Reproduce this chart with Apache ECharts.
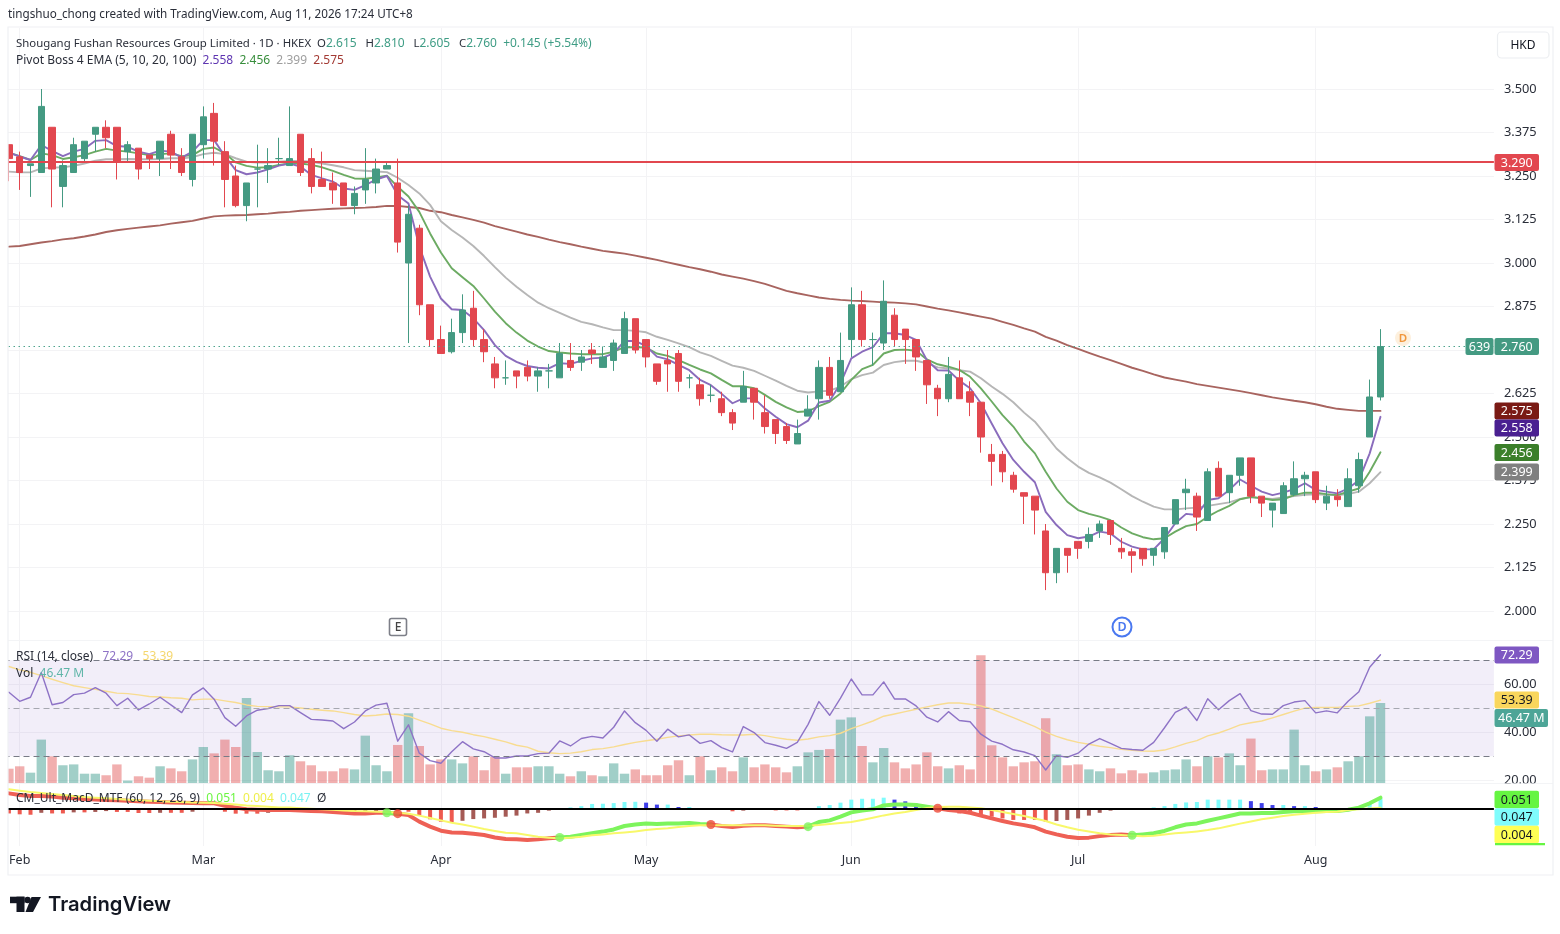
<!DOCTYPE html>
<html><head><meta charset="utf-8">
<style>html,body{margin:0;padding:0;background:#fff}#c{width:1560px;height:934px}</style>
<script src="https://cdn.jsdelivr.net/npm/echarts@6/dist/echarts.min.js"></script>
</head><body><div id="c"></div>
<script>
const open=[3.34,3.305,3.28,3.26,3.39,3.22,3.26,3.30,3.37,3.39,
3.39,3.32,3.33,3.31,3.30,3.37,3.305,3.24,3.34,3.43,
3.32,3.25,3.165,3.27,3.27,3.30,3.28,3.37,3.30,3.24,
3.23,3.23,3.165,3.21,3.23,3.27,3.23,3.00,3.10,2.88,
2.78,2.745,2.80,2.87,2.78,2.71,2.67,2.69,2.70,2.675,
2.69,2.67,2.72,2.715,2.75,2.70,2.72,2.74,2.84,2.78,
2.71,2.72,2.74,2.67,2.65,2.62,2.61,2.57,2.60,2.64,
2.57,2.55,2.53,2.48,2.56,2.61,2.70,2.63,2.78,2.88,
2.78,2.77,2.85,2.81,2.78,2.72,2.64,2.61,2.67,2.63,
2.60,2.45,2.45,2.39,2.34,2.33,2.23,2.11,2.18,2.20,
2.20,2.23,2.26,2.18,2.17,2.18,2.16,2.17,2.25,2.34,
2.33,2.26,2.41,2.34,2.39,2.44,2.33,2.29,2.28,2.335,
2.38,2.40,2.31,2.33,2.30,2.36,2.50,2.615];
const close=[3.30,3.26,3.285,3.45,3.27,3.28,3.34,3.35,3.39,3.36,
3.29,3.34,3.27,3.30,3.35,3.31,3.26,3.37,3.42,3.35,
3.24,3.165,3.23,3.27,3.28,3.30,3.30,3.26,3.22,3.22,
3.21,3.165,3.20,3.24,3.27,3.28,3.06,3.14,2.88,2.78,
2.74,2.80,2.865,2.78,2.745,2.67,2.67,2.675,2.675,2.69,
2.69,2.74,2.70,2.73,2.74,2.73,2.77,2.84,2.75,2.73,
2.66,2.71,2.66,2.67,2.61,2.62,2.57,2.54,2.645,2.60,
2.53,2.51,2.49,2.51,2.58,2.70,2.62,2.72,2.88,2.78,
2.78,2.89,2.78,2.78,2.73,2.65,2.61,2.68,2.61,2.60,
2.50,2.43,2.40,2.35,2.33,2.29,2.11,2.18,2.16,2.18,
2.22,2.25,2.22,2.17,2.16,2.15,2.18,2.24,2.32,2.35,
2.27,2.40,2.33,2.39,2.44,2.33,2.31,2.31,2.36,2.38,
2.39,2.32,2.33,2.32,2.38,2.435,2.615,2.76];
const high=[3.34,3.32,3.285,3.50,3.39,3.295,3.36,3.35,3.39,3.41,
3.39,3.35,3.33,3.31,3.35,3.38,3.33,3.37,3.45,3.46,
3.35,3.28,3.23,3.34,3.33,3.36,3.45,3.37,3.33,3.32,
3.26,3.23,3.22,3.33,3.30,3.29,3.30,3.165,3.11,2.88,
2.82,2.84,2.91,2.92,2.81,2.73,2.72,2.69,2.72,2.70,
2.71,2.77,2.77,2.75,2.77,2.76,2.78,2.86,2.84,2.78,
2.71,2.75,2.75,2.68,2.67,2.65,2.63,2.58,2.69,2.64,
2.62,2.55,2.54,2.55,2.62,2.72,2.73,2.80,2.93,2.92,
2.80,2.95,2.87,2.81,2.78,2.72,2.65,2.73,2.72,2.66,
2.60,2.48,2.46,2.40,2.34,2.33,2.25,2.18,2.18,2.20,
2.24,2.26,2.26,2.21,2.18,2.18,2.18,2.24,2.32,2.38,
2.34,2.41,2.43,2.39,2.44,2.44,2.33,2.31,2.37,2.43,
2.40,2.40,2.36,2.35,2.41,2.455,2.665,2.81];
const low=[3.235,3.21,3.19,3.26,3.16,3.16,3.26,3.29,3.32,3.33,
3.24,3.29,3.24,3.27,3.25,3.27,3.25,3.22,3.30,3.28,
3.16,3.16,3.12,3.16,3.23,3.28,3.28,3.25,3.20,3.22,
3.17,3.165,3.14,3.17,3.20,3.27,3.03,2.77,2.85,2.76,
2.74,2.74,2.77,2.76,2.715,2.64,2.65,2.64,2.66,2.63,
2.64,2.67,2.69,2.69,2.71,2.70,2.69,2.74,2.74,2.70,
2.65,2.63,2.63,2.64,2.59,2.60,2.56,2.52,2.60,2.55,
2.51,2.48,2.48,2.48,2.56,2.55,2.61,2.63,2.73,2.76,
2.705,2.75,2.76,2.71,2.69,2.595,2.56,2.60,2.61,2.56,
2.455,2.36,2.37,2.34,2.25,2.22,2.06,2.08,2.11,2.15,
2.18,2.21,2.19,2.15,2.11,2.13,2.13,2.15,2.25,2.29,
2.23,2.26,2.33,2.31,2.36,2.31,2.27,2.24,2.28,2.33,
2.33,2.31,2.29,2.30,2.30,2.34,2.50,2.605];
const ema5=[3.317,3.306,3.296,3.339,3.322,3.307,3.32,3.328,3.351,3.353,
3.336,3.334,3.32,3.313,3.323,3.32,3.303,3.32,3.353,3.353,
3.307,3.267,3.255,3.26,3.269,3.28,3.286,3.277,3.253,3.243,
3.234,3.214,3.21,3.224,3.24,3.25,3.195,3.171,3.047,2.961,
2.898,2.867,2.865,2.841,2.807,2.764,2.733,2.716,2.704,2.699,
2.697,2.712,2.71,2.719,2.726,2.728,2.74,2.776,2.776,2.761,
2.731,2.723,2.707,2.692,2.664,2.649,2.624,2.597,2.611,2.611,
2.582,2.558,2.537,2.528,2.547,2.599,2.604,2.654,2.726,2.745,
2.758,2.798,2.798,2.793,2.779,2.721,2.692,2.691,2.662,2.64,
2.597,2.539,2.482,2.434,2.40,2.37,2.285,2.247,2.218,2.209,
2.214,2.228,2.223,2.199,2.185,2.177,2.177,2.209,2.252,2.279,
2.276,2.319,2.324,2.348,2.378,2.36,2.343,2.333,2.34,2.35,
2.367,2.348,2.343,2.338,2.352,2.376,2.453,2.558];
const ema10=[3.317,3.307,3.296,3.315,3.31,3.299,3.304,3.31,3.32,3.328,
3.323,3.32,3.315,3.31,3.313,3.315,3.307,3.31,3.328,3.332,
3.315,3.289,3.279,3.274,3.275,3.282,3.286,3.286,3.282,3.275,
3.265,3.253,3.243,3.242,3.246,3.251,3.219,3.191,3.147,3.085,
3.03,2.985,2.959,2.934,2.898,2.86,2.827,2.8,2.777,2.76,
2.747,2.743,2.74,2.738,2.738,2.738,2.745,2.758,2.758,2.757,
2.74,2.733,2.721,2.707,2.694,2.683,2.664,2.646,2.646,2.64,
2.621,2.601,2.585,2.572,2.574,2.589,2.601,2.625,2.664,2.695,
2.707,2.74,2.75,2.751,2.748,2.723,2.709,2.702,2.693,2.673,
2.64,2.602,2.563,2.53,2.487,2.453,2.40,2.352,2.314,2.29,
2.279,2.271,2.261,2.24,2.223,2.212,2.206,2.209,2.228,2.244,
2.25,2.271,2.288,2.302,2.321,2.328,2.324,2.319,2.321,2.333,
2.34,2.34,2.336,2.333,2.343,2.352,2.40,2.456];
const ema20=[3.2625,3.2605,3.2605,3.272,3.274,3.275,3.279,3.286,3.294,3.298,
3.298,3.299,3.298,3.298,3.299,3.301,3.301,3.304,3.313,3.317,
3.313,3.301,3.291,3.289,3.289,3.291,3.293,3.293,3.291,3.286,
3.281,3.275,3.267,3.265,3.263,3.261,3.245,3.224,3.2,3.167,
3.12,3.095,3.073,3.049,3.02,2.988,2.958,2.932,2.908,2.886,
2.87,2.857,2.843,2.831,2.824,2.815,2.807,2.807,2.805,2.801,
2.788,2.779,2.769,2.758,2.743,2.733,2.719,2.705,2.699,2.69,
2.676,2.662,2.647,2.633,2.628,2.631,2.633,2.645,2.666,2.678,
2.685,2.707,2.715,2.719,2.719,2.712,2.7,2.697,2.692,2.688,
2.669,2.645,2.624,2.6,2.57,2.544,2.506,2.467,2.439,2.415,
2.397,2.384,2.369,2.35,2.33,2.314,2.3,2.292,2.292,2.295,
2.297,2.302,2.307,2.312,2.322,2.327,2.324,2.322,2.326,2.33,
2.334,2.335,2.334,2.333,2.336,2.343,2.367,2.399];
const ema100=[3.047,3.049,3.054,3.059,3.063,3.068,3.071,3.076,3.082,3.089,
3.094,3.098,3.1015,3.105,3.108,3.113,3.117,3.121,3.128,3.134,
3.136,3.137,3.138,3.14,3.142,3.145,3.147,3.15,3.152,3.154,
3.156,3.157,3.158,3.159,3.161,3.164,3.164,3.161,3.158,3.15,
3.146,3.138,3.131,3.124,3.116,3.106,3.098,3.09,3.082,3.075,
3.067,3.06,3.054,3.047,3.041,3.035,3.031,3.027,3.021,3.015,
3.009,3.002,2.995,2.988,2.982,2.975,2.967,2.961,2.955,2.948,
2.94,2.93,2.92,2.913,2.907,2.901,2.897,2.894,2.892,2.891,
2.889,2.887,2.886,2.884,2.881,2.875,2.869,2.864,2.858,2.852,
2.846,2.84,2.831,2.822,2.812,2.803,2.788,2.777,2.764,2.753,
2.742,2.731,2.721,2.71,2.699,2.69,2.68,2.671,2.665,2.659,
2.652,2.647,2.642,2.637,2.632,2.626,2.62,2.614,2.609,2.604,
2.6,2.594,2.587,2.581,2.578,2.575,2.575,2.575];
const volume=[8.3,9.7,6,25.2,15.5,10.3,10.8,5.4,5.4,4.5,
10.8,1.4,3.9,3.1,9.7,8.5,6.8,13.7,20.9,17.2,
25.2,20.9,49.4,18,7.4,6.8,16.1,12.6,10.3,6.8,
6.8,8.5,7.9,27.5,10.3,6.8,22.1,40.5,21.5,10.8,
13.7,13.7,11.4,15.5,7.4,15.3,5.4,9.1,
9.1,9.7,9.7,5.4,3.9,6.8,4.5,3.9,11.4,5.4,
7.9,4.5,4.5,10.3,13.2,4.5,15.5,7.4,9.1,6.8,
14.9,9.1,10.8,9.1,6.2,9.7,17.8,19.2,19.7,36.8,
38.1,21.5,12,20.3,12,8.5,10.8,17.8,9.7,8.5,
10.3,7.9,74.2,21.9,14.9,9.7,
12,12.6,37.6,16.7,10.3,10.8,7.9,6.8,8.5,5.6,
7.4,5.6,6.2,7.4,7.9,13.7,9.7,15.5,14.9,17.2,
10.3,25.8,7.4,7.9,7.9,31,10.3,6.8,7.9,9.1,
12.6,15.5,38.7,46.47];
const rsi=[56.7,52.9,54.6,64.9,51.5,52.4,55.7,56.3,58.6,56.3,
51.1,54.2,49.3,51.8,54.6,51.4,48.2,55.6,58.5,53.8,
46.1,42.5,46.8,49.2,49.9,51.1,51.1,48.2,45.4,45.1,
44.7,41.5,44.3,48.9,51.3,52.1,36.3,43.1,31.3,28.2,
27.1,31.9,36.1,33.1,31.9,29.3,29.3,30.1,
30.1,31.1,31.3,36.4,34.3,37.4,38.3,37.6,42.1,48.9,
44,40.8,36.3,41.3,38.1,38.9,35.4,36.5,33.6,31.8,
42.4,39.9,35.7,34.6,33.3,35.8,43.3,52.8,47.1,54.2,
62.2,55.6,55.6,61,53.9,53.9,51,46.3,44.3,48.6,
44.9,44.4,39.2,36.3,35,32.7,
31.8,30.3,24.3,30.3,29.6,31.3,35.1,37.4,35.4,33.3,
32.8,32.5,35.8,41.9,48.3,50.6,44.9,54,49.4,53.2,
56.1,49,47.6,47.5,51.1,52.6,53.2,48.1,48.9,48.1,
52.9,56.9,67.1,72.29];
const rsiMa=[67.4,66,65,63.6,62.1,60.7,59.4,58.6,57.9,57.1,
56.3,56.1,55.6,54.9,54.7,54.4,54.2,53.5,53.8,53.8,
53.1,52.4,51.4,50.8,50.7,50.6,50.6,50.1,49.6,49.2,
48.9,48.2,47.4,46.8,47.1,47.6,47.4,46.7,45.1,43.5,
41.7,40.7,40,39,38.2,37.1,36,34.6,
33.8,32.1,31.5,31.1,31.3,31.9,32.8,33.2,33.9,34.9,
35.8,36.5,37.1,37.9,38.5,38.9,39.2,39.2,39,38.9,
38.9,39.2,38.6,37.8,37.1,36.7,37.2,38.1,38.6,39.6,
41.5,43.1,44.7,46.7,47.6,48.6,49.6,50.6,51.5,52.2,
52.2,51.7,51,49.7,47.9,46.1,
44.2,42.4,40.1,38.3,36.9,35.8,35,34.2,33.6,32.9,
32.5,32.2,32.1,32.6,33.9,35.4,36.5,38.5,39.7,41.3,
43.1,44,44.7,46,47.4,48.8,50.1,50.3,50.3,50.4,
50.8,51,52.1,53.39];
const macd=[.071,.063,.059,.059,.056,.051,.048,.045,.043,.040,
.039,.037,.034,.032,.031,.029,.028,.026,.025,.025,
.014,.005,-.003,-.005,-.006,-.006,-.006,-.008,-.011,-.012,
-.015,-.019,-.022,-.022,-.019,-.019,-.023,-.029,-.060,-.083,
-.102,-.110,-.111,-.116,-.122,-.133,-.140,-.142,
-.145,-.142,-.137,-.133,-.130,-.122,-.114,-.106,-.096,-.080,
-.073,-.069,-.071,-.069,-.068,-.066,-.071,-.073,-.080,-.085,
-.079,-.077,-.077,-.080,-.083,-.086,-.083,-.062,-.054,-.037,
-.017,-.008,-.003,.015,.019,.020,.017,.009,.002,-.006,
-.011,-.019,-.032,-.045,-.057,-.068,
-.076,-.086,-.106,-.119,-.130,-.136,-.134,-.127,-.122,-.120,
-.123,-.119,-.114,-.103,-.086,-.073,-.068,-.056,-.045,-.034,
-.022,-.022,-.020,-.020,-.015,-.012,-.012,-.012,-.011,-.011,
-.005,.005,.025,.051];
const signal=[.090,.083,.077,.073,.068,.063,.059,.054,.051,.048,
.045,.042,.039,.037,.034,.032,.031,.029,.028,.026,
.023,.020,.015,.012,.009,.006,.005,.002,0,-.003,
-.005,-.008,-.011,-.012,-.014,-.015,-.019,-.023,-.032,-.043,
-.054,-.065,-.073,-.083,-.094,-.103,-.111,-.114,
-.122,-.130,-.134,-.137,-.134,-.130,-.123,-.119,-.114,-.110,
-.105,-.099,-.094,-.091,-.085,-.080,-.077,-.077,-.077,-.077,
-.077,-.077,-.077,-.079,-.080,-.080,-.079,-.076,-.071,-.066,
-.062,-.052,-.042,-.031,-.022,-.015,-.006,.003,.008,.009,
.009,.006,.002,-.006,-.015,-.025,
-.034,-.045,-.057,-.073,-.086,-.097,-.106,-.114,-.119,-.122,
-.125,-.127,-.125,-.120,-.114,-.110,-.105,-.099,-.091,-.080,
-.069,-.059,-.049,-.042,-.034,-.028,-.023,-.019,-.015,-.014,
-.006,-.002,.001,.004];
const hist=[-.022,-.026,-.028,-.019,-.022,-.022,-.017,-.017,-.015,-.011,
-.015,-.015,-.020,-.020,-.019,-.019,-.019,-.014,-.002,-.002,
-.014,-.023,-.023,-.023,-.019,-.014,-.012,-.012,-.014,-.014,
-.019,-.019,-.022,-.017,-.012,-.006,-.011,-.014,-.032,-.049,
-.060,-.066,-.056,-.048,-.045,-.042,-.037,-.032,
-.022,-.019,-.009,0,.006,.012,.022,.023,.026,.031,
.032,.028,.019,.019,.008,.008,.002,0,-.006,-.012,
-.009,0,-.006,-.008,-.008,-.008,0,.012,.017,.028,
.042,.046,.046,.051,.042,.034,.023,.014,.005,-.009,
-.022,-.025,-.034,-.037,-.045,-.052,
-.052,-.052,-.060,-.057,-.052,-.045,-.032,-.019,-.009,0,
0,0,.006,.012,.022,.029,.031,.042,.042,.042,
.042,.035,.026,.017,.017,.012,.012,.008,0,0,
0,.002,.022,.047];
const crossUp=[35,51,74,104];
const crossDown=[36,65,86];
const monthLabels={1:'Feb',18:'Mar',40:'Apr',59:'May',78:'Jun',99:'Jul',121:'Aug'};
const priceTicks=[2,2.125,2.25,2.375,2.5,2.625,2.75,2.875,3,3.125,3.25,3.375,3.5];
const rsiTicks=[20,40,60];
const rsiLevels=[30,50,70];
const resistance=3.29, lastPrice=2.76;

const N=138;
const cats=Array.from({length:N},(_,i)=>String(i));
const L=3.5, W=1490.4;
const C={g:'#449a82',r:'#e2474f',frame:'#eff0f3',grid:'#f3f3f5',txt:'#131722',font:'"Noto Sans",Roboto,sans-serif'};
const monthIdx=Object.keys(monthLabels).map(Number);
const xA=(g,lab)=>({type:'category',gridIndex:g,data:cats,boundaryGap:true,
  axisLine:{show:false,onZero:false},axisTick:{show:false,alignWithLabel:true},
  splitLine:{show:true,alignWithLabel:true,interval:(i)=>monthIdx.includes(i),lineStyle:{color:C.grid,width:1}},
  axisLabel:lab?{show:true,interval:0,margin:8,color:'#2a2e39',fontSize:12.5,fontFamily:C.font,formatter:(v,i)=>monthLabels[i]||''}:{show:false}});
const yA=(g,min,max,ticks,dec)=>({type:'value',gridIndex:g,position:'right',min,max,scale:true,
  axisLine:{show:false},
  axisTick:{show:false,customValues:ticks},
  axisLabel:{show:true,customValues:ticks,margin:10,padding:[2,0,0,0],color:'#2a2e39',fontSize:12.8,fontFamily:C.font,formatter:v=>v.toFixed(dec)},
  splitLine:{show:true,lineStyle:{color:C.grid,width:1}}});

const inUp=i=>crossUp.some((u,k)=>{const end=k<crossDown.length?crossDown[k]:127;return i>=u&&i<=end;});
const inDown=i=>{for(let k=0;k<crossUp.length;k++){const end=k<crossDown.length?crossDown[k]:127;if(i>crossUp[k]&&i<end)return false;}return true;};
const ln=(name,data,color,width,xi,yi,z,extra)=>Object.assign({name,type:'line',data,xAxisIndex:xi,yAxisIndex:yi,symbol:'none',silent:true,z,
  connectNulls:false,lineStyle:{color,width,opacity:1,cap:'round',join:'round'}},extra||{});

const rule=(v,color,type,width)=>({yAxis:v,lineStyle:{color,type,width},label:{show:false}});
const option={animation:false,backgroundColor:'#fff',
 grid:[
  {left:L,width:W,top:28,height:612},
  {left:L,width:W,top:641,height:142},
  {left:L,width:W,top:784,height:62}],
 xAxis:[xA(0,false),xA(1,false),xA(2,true)],
 yAxis:[
  yA(0,3.5-(640-89)/348,3.5+(89-28)/348,priceTicks,3),
  yA(1,18.87,78.04,rsiTicks,2),
  {type:'value',gridIndex:1,min:0,max:82.46,show:false,splitLine:{show:false}},
  {type:'value',gridIndex:2,min:-(846-808.7)/216,max:(808.7-784)/216,show:false,splitLine:{show:false}}],
 series:[
  ln('EMA 100',ema100,'#a8645f',1.9,0,0,3),
  ln('EMA 20',ema20,'#b6b6b6',1.9,0,0,3),
  ln('EMA 10',ema10,'#6cab63',1.9,0,0,3),
  ln('EMA 5',ema5,'#8a6cbc',1.9,0,0,3),
  {name:'Price',type:'candlestick',xAxisIndex:0,yAxisIndex:0,z:4,silent:true,barWidth:7,
   data:open.map((o,i)=>[o,close[i],low[i],high[i]]),
   itemStyle:{color:C.g,color0:C.r,borderColor:C.g,borderColor0:C.r,borderColorDoji:C.g,borderWidth:1},
   markLine:{silent:true,symbol:'none',z:5,animation:false,data:[rule(resistance,'#e2474f','solid',2),rule(lastPrice,'#4fa48f',[1.5,3.5],1)]}},
  {name:'Volume',type:'bar',xAxisIndex:1,yAxisIndex:2,z:2,silent:true,barWidth:9.4,
   data:volume.map((v,i)=>({value:v,itemStyle:{color:close[i]>=open[i]?'rgba(68,160,145,.5)':'rgba(224,80,80,.46)'}}))},
  ln('RSI',rsi,'#8e73c6',1.4,1,1,4,{
   markArea:{silent:true,itemStyle:{color:'rgba(126,87,194,.1)'},data:[[{yAxis:rsiLevels[0]},{yAxis:rsiLevels[2]}]]},
   markLine:{silent:true,symbol:'none',data:rsiLevels.map(v=>rule(v,v===50?'#a6a8b0':'#787b86',[6,4],1))}}),
  ln('RSI MA',rsiMa,'#f8dc90',1.4,1,1,3),
  {name:'Hist',type:'bar',xAxisIndex:2,yAxisIndex:3,z:2,silent:true,barWidth:4,
   data:hist.map((v,i)=>{const p=i?hist[i-1]:v;return {value:v,itemStyle:{color:v>=0?(v>=p?'#7ffcfc':'#3e3ee8'):(v<=p?'#ee5a50':'#a55a55')}};}),
   markLine:{silent:true,symbol:'none',z:5,data:[rule(0,'#000','solid',2)]}},
  ln('MACD down',macd.map((v,i)=>inDown(i)?v:null),'#ee6055',4,2,3,3),
  ln('MACD up',macd.map((v,i)=>inUp(i)?v:null),'#7df45c',4,2,3,3),
  ln('Signal',signal,'#f8f86a',2,2,3,4),
  {name:'Cross up',type:'scatter',xAxisIndex:2,yAxisIndex:3,z:6,silent:true,symbolSize:9,itemStyle:{color:'#7df45c'},data:crossUp.map(i=>[i,macd[i]])},
  {name:'Cross down',type:'scatter',xAxisIndex:2,yAxisIndex:3,z:6,silent:true,symbolSize:9,itemStyle:{color:'#ee4a3a'},data:crossDown.map(i=>[i,macd[i]])}
 ],
 graphic:[]
};

const G=option.graphic;
const Z=100;
const rect=(x,y,w,h,fill,stroke,r,lw)=>G.push({type:'rect',z:Z,silent:true,shape:{x,y,width:w,height:h,r:r||0},style:{fill:fill||'transparent',stroke:stroke||null,lineWidth:stroke?(lw||1.2):0}});
const text=(x,y,t,size,color,align,extra)=>G.push({type:'text',z:Z+1,silent:true,x,y,style:Object.assign({text:t,fontSize:size,fill:color,fontFamily:C.font,align:align||'left',verticalAlign:'middle'},extra||{})});
const tag=(x,yc,w,h,t,bg,fg)=>{rect(x,yc-h/2,w,h,bg,null,2);text(x+w/2,yc+.5,t,12.5,fg,'center');};

rect(0,27,8,850,'#fff');
rect(8,27,1545,848,null,C.frame);
rect(8,640,1545,.8,C.frame);
rect(8,783.3,1545,.8,C.frame);
rect(1497.5,32,51.5,26,'#fff','#eceef1',4);
text(1523,45.5,'HKD',12,'#131722','center');

text(8,15,'tingshuo_chong created with TradingView.com, Aug 11, 2026 17:24 UTC+8',11.7,'#2a2e39');
const st=(fill,fontSize)=>({fill,fontSize:fontSize||12,fontFamily:C.font});
const rt={e:st('#2a2e39',11.4),d:st('#2a2e39'),g:st('#3f9d85'),p:st('#5e35b1'),n:st('#388e3c'),y:st('#9e9e9e'),b:st('#a33a34'),
 l:st('#8e73c6'),m:st('#f5d76e'),t:st('#5fb5a8'),x:st('#6cf542'),u:st('#efef4a'),c:st('#7af2f2')};
const rich=(x,y,t)=>text(x,y,t,12,'#2a2e39','left',{rich:rt});
rich(16,44,'{e|Shougang Fushan Resources Group Limited · 1D · HKEX  O}{g|2.615}{e|   H}{g|2.810}{e|   L}{g|2.605}{e|   C}{g|2.760}{g|  +0.145 (+5.54%)}');
rich(16,61,'{d|Pivot Boss 4 EMA (5, 10, 20, 100)  }{p|2.558}{d|  }{n|2.456}{d|  }{y|2.399}{d|  }{b|2.575}');
rich(16,657,'{d|RSI (14, close)   }{l|72.29}{d|   }{m|53.39}');
rich(16,674,'{d|Vol  }{t|46.47 M}');
rich(16,799,'{d|CM_Ult_MacD_MTF (60, 12, 26, 9)  }{x|0.051}{d|  }{u|0.004}{d|  }{c|0.047}{d|  Ø}');

tag(1494.5,162.5,44.5,17,'3.290','#e2474f','#fff');
tag(1465.5,346.5,28,17,'639','#449a82','#fff');
tag(1494.5,346.5,44.5,17,'2.760','#449a82','#fff');
tag(1494.5,411,44.5,17,'2.575','#7a1a14','#fff');
tag(1494.5,428,44.5,17,'2.558','#4a2091','#fff');
tag(1494.5,452.5,44.5,17,'2.456','#3b7f2a','#fff');
tag(1494.5,472,44.5,17,'2.399','#808080','#fff');
tag(1494.5,655,44.5,17,'72.29','#7e57c2','#fff');
tag(1494.5,700,44.5,17,'53.39','#f9d65c','#131722');
tag(1494.5,718,53.5,18,'46.47 M','#4da597','#fff');
tag(1494.5,799.5,44.5,17.5,'0.051','#66f542','#131722');
tag(1494.5,817,44.5,17.5,'0.047','#7ffcfc','#131722');
tag(1494.5,834.5,44.5,17.5,'0.004','#ffff55','#131722');
rect(1495,843,50,2.2,'#66f542');

// event markers
rect(389.5,618.5,17,17,'#fff','#7d7f88',2,1.6);
text(398,627.5,'E',12,'#444','center',{fontWeight:500});
G.push({type:'circle',z:Z,silent:true,shape:{cx:1122,cy:627,r:9.5},style:{fill:'#fff',stroke:'#4a78f0',lineWidth:2}});
text(1122,627.5,'D',12.5,'#4a78f0','center',{fontWeight:600});
G.push({type:'circle',z:Z,silent:true,shape:{cx:1403,cy:338,r:8},style:{fill:'#fdf0dd'}});
text(1403,338.5,'D',11.5,'#f0963c','center',{fontWeight:600});

// logo
rect(10,896.7,14.5,6.5,'#131722');
rect(16.5,896.7,8,15.3,'#131722');
G.push({type:'circle',z:Z,silent:true,shape:{cx:27.6,cy:900,r:3.2},style:{fill:'#131722'}});
G.push({type:'polygon',z:Z,silent:true,shape:{points:[[31.5,897],[41,897],[33,912],[25.5,912]]},style:{fill:'#131722'}});
text(48,905,'TradingView',20.2,'#131722','left',{fontFamily:'Inter,"Noto Sans",sans-serif',fontWeight:600});

const chart=echarts.init(document.getElementById('c'),null,{renderer:'canvas',width:1560,height:934});
chart.setOption(option);
</script></body></html>
